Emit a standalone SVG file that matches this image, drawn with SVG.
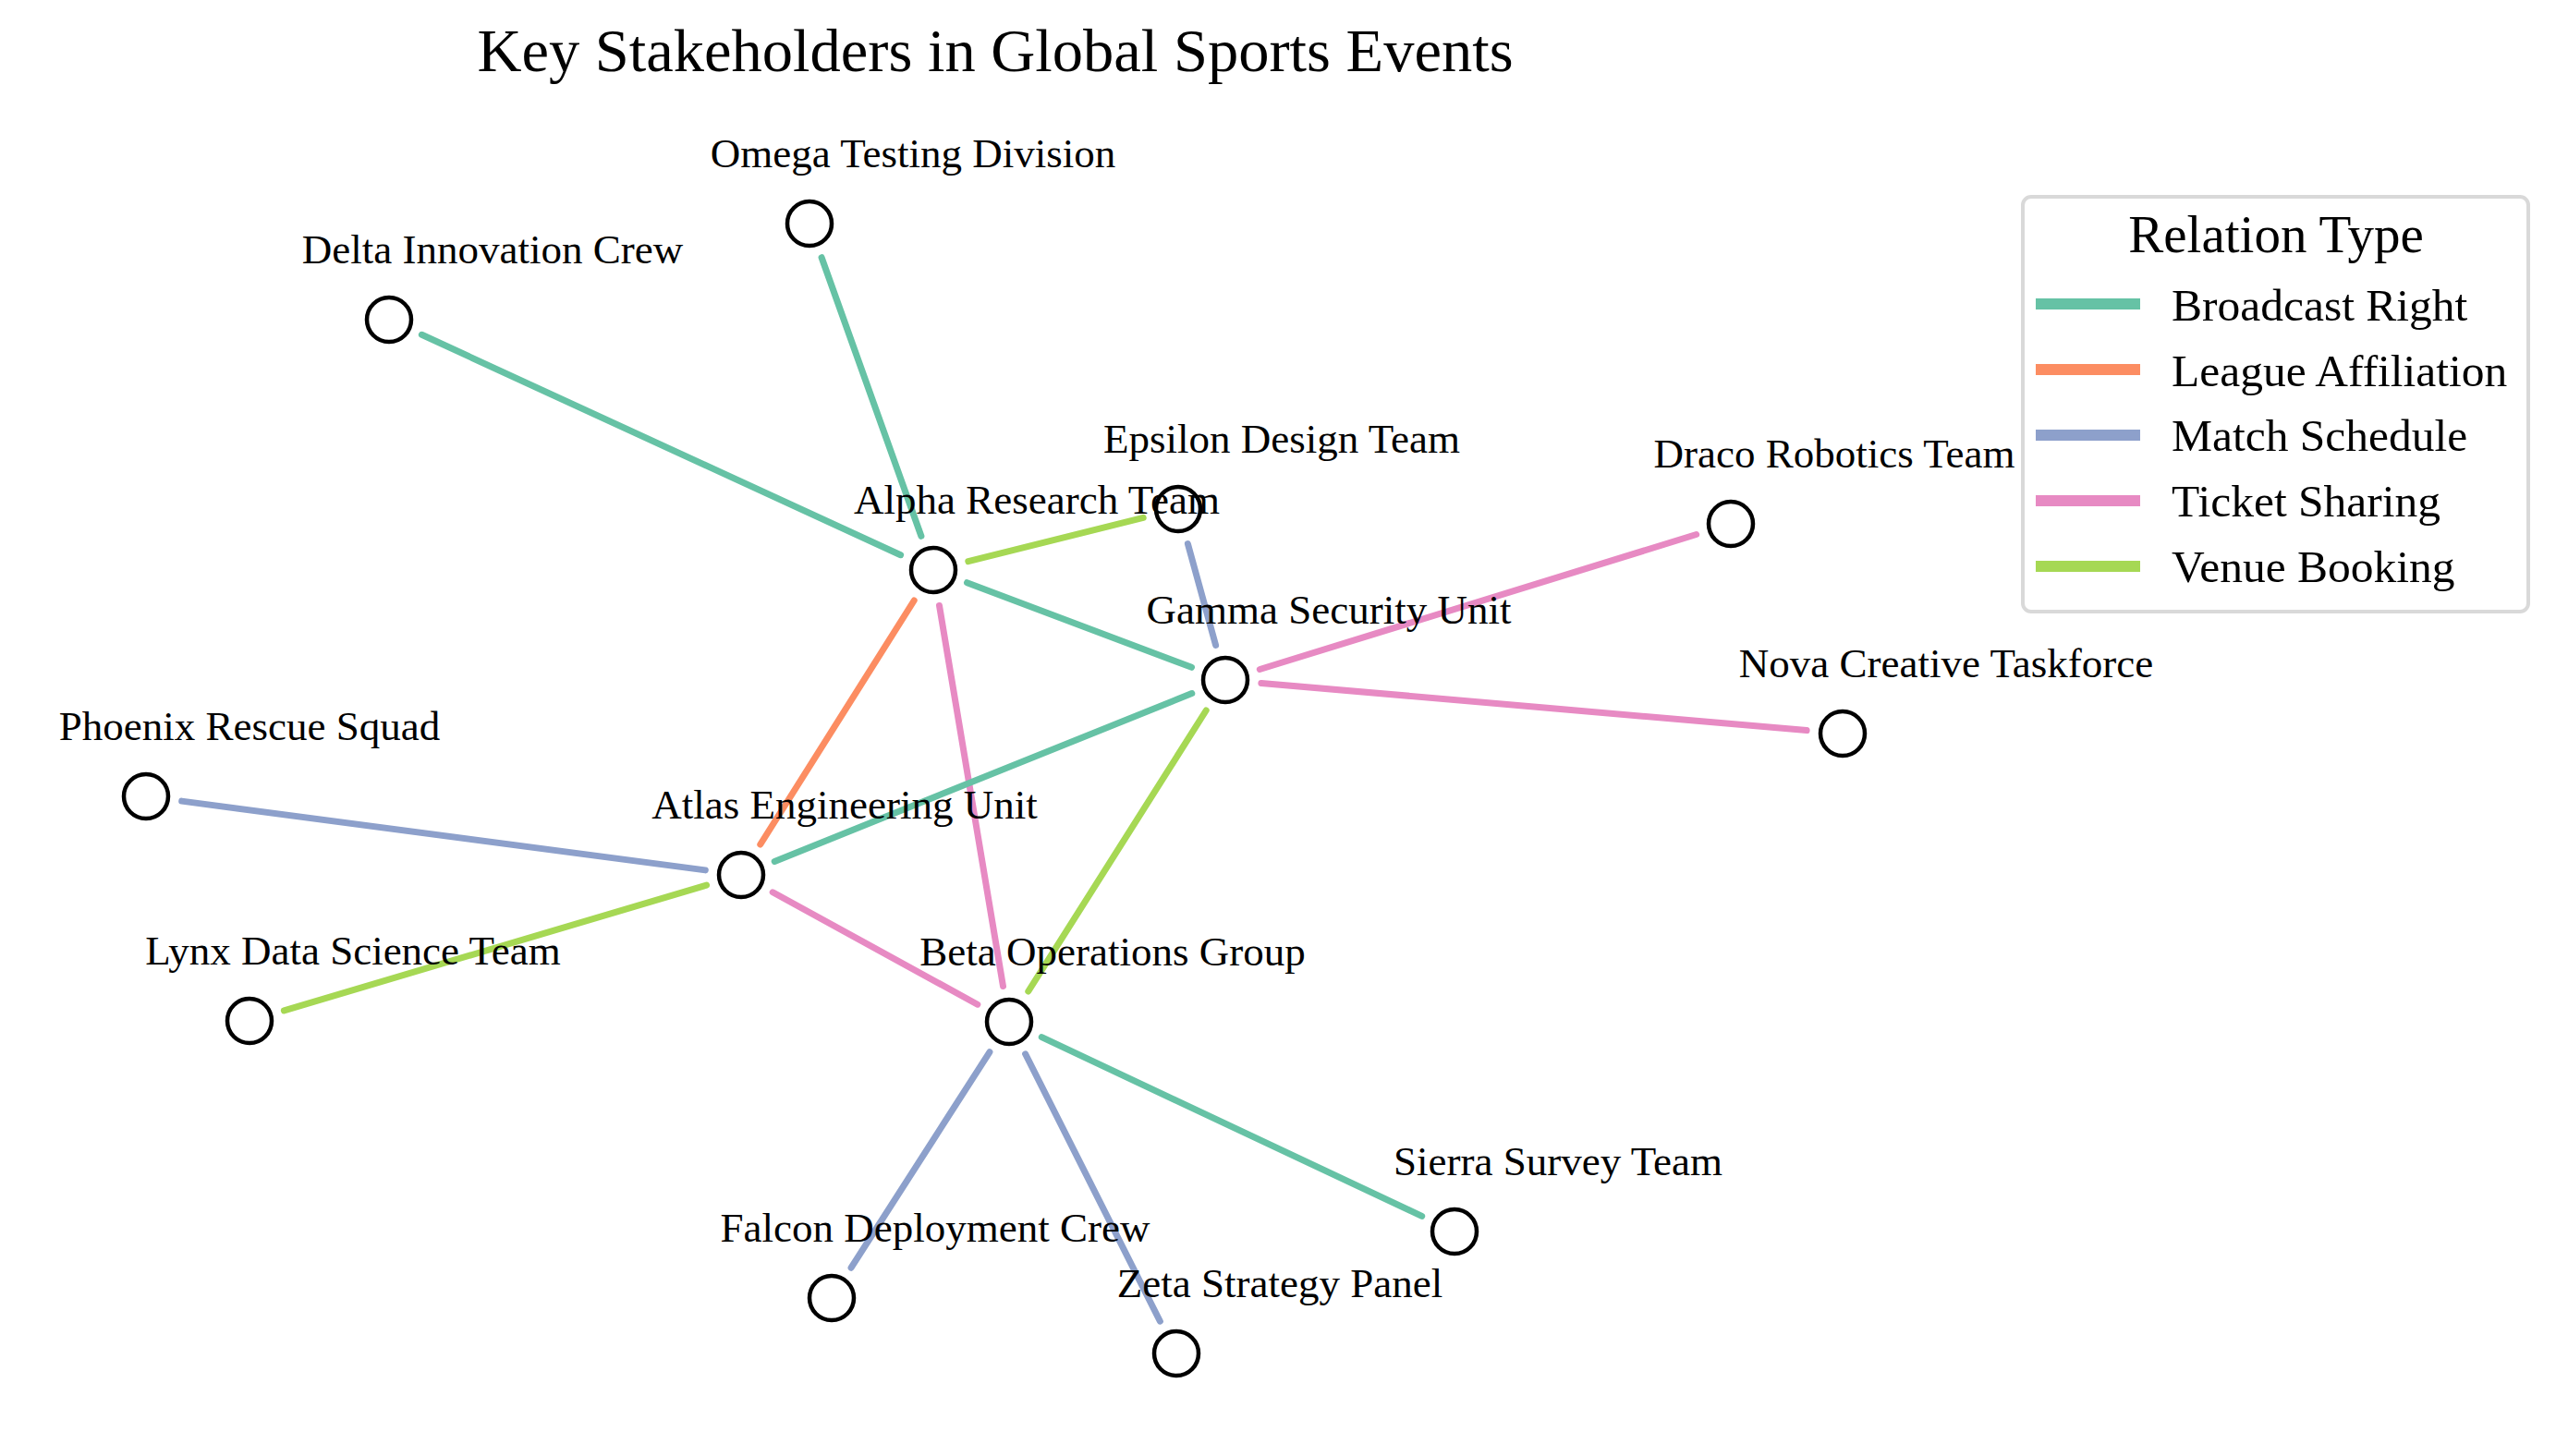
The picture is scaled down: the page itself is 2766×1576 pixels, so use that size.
<svg xmlns="http://www.w3.org/2000/svg" width="2766" height="1576" viewBox="0 0 2766 1576">
<style>
text{font-family:"Liberation Serif","Times New Roman",serif;fill:#000}
.lbl{font-size:45px;text-anchor:middle}
.e{fill:none;stroke-width:7;stroke-linecap:round}
.br{stroke:#66c2a5}.la{stroke:#fc8d62}.ms{stroke:#8da0cb}.ts{stroke:#e78ac3}.vb{stroke:#a6d854}
.n circle{fill:#fff;stroke:#000;stroke-width:4.5}
.lg{stroke-width:12}
.li{font-size:49.5px}
</style>
<rect width="2766" height="1576" fill="#fff"/>
<text x="1077" y="77" font-size="66.5" text-anchor="middle">Key Stakeholders in Global Sports Events</text>
<g id="connectors">
<line class="e br" x1="889.1" y1="278.7" x2="996.9" y2="580.3"/>
<line class="e br" x1="456.4" y1="362.3" x2="974.6" y2="600.7"/>
<line class="e vb" x1="1047.8" y1="607.6" x2="1237.2" y2="560.4"/>
<line class="e br" x1="1046.5" y1="630.7" x2="1289.5" y2="722.3"/>
<line class="e la" x1="989.2" y1="650" x2="822.8" y2="914"/>
<line class="e ts" x1="1016.5" y1="655.5" x2="1085.5" y2="1067.5"/>
<line class="e ms" x1="1285.4" y1="588.6" x2="1315.6" y2="698.4"/>
<line class="e ts" x1="1363.3" y1="724.5" x2="1835.7" y2="578.5"/>
<line class="e ts" x1="1364.9" y1="739.4" x2="1955.1" y2="790.6"/>
<line class="e br" x1="1289.8" y1="750.6" x2="838.2" y2="932.4"/>
<line class="e vb" x1="1305.2" y1="769" x2="1112.8" y2="1073"/>
<line class="e ms" x1="196.7" y1="867.1" x2="763.3" y2="941.9"/>
<line class="e vb" x1="307.4" y1="1093.9" x2="764.6" y2="958.1"/>
<line class="e ts" x1="836.2" y1="965.8" x2="1057.8" y2="1087.2"/>
<line class="e br" x1="1127.3" y1="1122.6" x2="1538.7" y2="1316.4"/>
<line class="e ms" x1="1070.9" y1="1138.8" x2="921.1" y2="1372.2"/>
<line class="e ms" x1="1109.6" y1="1140.8" x2="1255.4" y2="1430.2"/>
</g>
<g id="node-omega" class="n"><circle cx="876" cy="242" r="24"/></g>
<g id="node-delta" class="n"><circle cx="421" cy="346" r="24"/></g>
<g id="node-alpha" class="n"><circle cx="1010" cy="617" r="24"/></g>
<g id="node-epsilon" class="n"><circle cx="1275" cy="551" r="24"/></g>
<g id="node-draco" class="n"><circle cx="1873" cy="567" r="24"/></g>
<g id="node-gamma" class="n"><circle cx="1326" cy="736" r="24"/></g>
<g id="node-nova" class="n"><circle cx="1994" cy="794" r="24"/></g>
<g id="node-phoenix" class="n"><circle cx="158" cy="862" r="24"/></g>
<g id="node-atlas" class="n"><circle cx="802" cy="947" r="24"/></g>
<g id="node-lynx" class="n"><circle cx="270" cy="1105" r="24"/></g>
<g id="node-beta" class="n"><circle cx="1092" cy="1106" r="24"/></g>
<g id="node-sierra" class="n"><circle cx="1574" cy="1333" r="24"/></g>
<g id="node-falcon" class="n"><circle cx="900" cy="1405" r="24"/></g>
<g id="node-zeta" class="n"><circle cx="1273" cy="1465" r="24"/></g>
<g id="labels">
<text class="lbl" x="988" y="181">Omega Testing Division</text>
<text class="lbl" x="533" y="285">Delta Innovation Crew</text>
<text class="lbl" x="1122" y="556">Alpha Research Team</text>
<text class="lbl" x="1387" y="490">Epsilon Design Team</text>
<text class="lbl" x="1985" y="506">Draco Robotics Team</text>
<text class="lbl" x="1438" y="675">Gamma Security Unit</text>
<text class="lbl" x="2106" y="733">Nova Creative Taskforce</text>
<text class="lbl" x="270" y="801">Phoenix Rescue Squad</text>
<text class="lbl" x="914" y="886">Atlas Engineering Unit</text>
<text class="lbl" x="382" y="1044">Lynx Data Science Team</text>
<text class="lbl" x="1204" y="1045">Beta Operations Group</text>
<text class="lbl" x="1686" y="1272">Sierra Survey Team</text>
<text class="lbl" x="1012" y="1344">Falcon Deployment Crew</text>
<text class="lbl" x="1385" y="1404">Zeta Strategy Panel</text>
</g>
<g id="legend">
<rect x="2189" y="213" width="547" height="449" rx="9" fill="#fff" stroke="#d9d9d9" stroke-width="4"/>
<text x="2463" y="273" font-size="57" text-anchor="middle">Relation Type</text>
<line class="lg br" x1="2203" y1="329" x2="2316" y2="329"/>
<text class="li" x="2350" y="347">Broadcast Right</text>
<line class="lg la" x1="2203" y1="400" x2="2316" y2="400"/>
<text class="li" x="2350" y="418">League Affiliation</text>
<line class="lg ms" x1="2203" y1="471" x2="2316" y2="471"/>
<text class="li" x="2350" y="488">Match Schedule</text>
<line class="lg ts" x1="2203" y1="542" x2="2316" y2="542"/>
<text class="li" x="2350" y="559">Ticket Sharing</text>
<line class="lg vb" x1="2203" y1="613" x2="2316" y2="613"/>
<text class="li" x="2350" y="630">Venue Booking</text>
</g>
</svg>
